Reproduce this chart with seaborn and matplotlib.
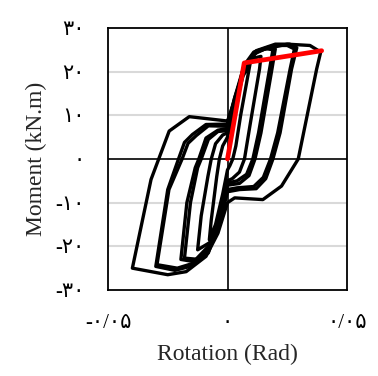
import matplotlib
matplotlib.use("Agg")
import matplotlib.pyplot as plt
import seaborn as sns
import pandas as pd

# Hysteresis loops: rotation (rad) vs moment (kN.m)
loop1_x = [0.000, 0.003, 0.0065, 0.0095, 0.0085, 0.0055, 0.0035, 0.0022, 0.001, 0.000,
           -0.002, -0.005, -0.0076, -0.0068, -0.0045, -0.0034, -0.002, 0.000]
loop1_y = [5.0, 12.0, 19.0, 22.0, 19.0, 10.0, 3.0, 0.0, -1.5, -2.5,
           -8.0, -15.0, -18.5, -14.0, -4.0, 0.0, 3.0, 5.0]

loop2_x = [0.000, 0.003, 0.0065, 0.010, 0.014, 0.0134, 0.0095, 0.0071, 0.005, 0.002, 0.000,
           -0.003, -0.007, -0.0125, -0.011, -0.0082, -0.0068, -0.005, -0.002, 0.000]
loop2_y = [6.0, 13.0, 20.5, 23.0, 23.5, 20.6, 8.0, 0.0, -3.0, -4.5, -5.0,
           -12.0, -19.0, -20.8, -13.0, -4.0, 0.0, 3.5, 5.5, 6.0]

loop3_x = [0.000, 0.003, 0.007, 0.011, 0.016, 0.019, 0.0176, 0.013, 0.0106, 0.008, 0.004, 0.000,
           -0.003, -0.008, -0.012, -0.018, -0.0155, -0.0125, -0.011, -0.008, -0.004, 0.000]
loop3_y = [6.5, 13.5, 21.0, 24.0, 25.3, 25.0, 20.6, 6.0, 0.0, -3.5, -5.0, -5.5,
           -13.0, -21.0, -23.0, -22.7, -10.0, -2.0, 0.0, 4.5, 6.3, 6.5]

loop4_x = [0.000, 0.003, 0.007, 0.011, 0.017, 0.020, 0.0186, 0.014, 0.0115, 0.009, 0.005, 0.000,
           -0.003, -0.008, -0.013, -0.0195, -0.017, -0.0135, -0.012, -0.009, -0.004, 0.000]
loop4_y = [7.0, 14.0, 21.5, 24.5, 25.6, 25.2, 20.6, 6.0, 0.0, -3.8, -5.6, -6.0,
           -13.5, -21.5, -23.6, -23.0, -10.0, -2.0, 0.0, 4.8, 6.6, 7.0]

loop5_x = [0.000, 0.003, 0.0075, 0.012, 0.020, 0.026, 0.029, 0.0268, 0.022, 0.019, 0.016, 0.012,
           0.005, 0.000, -0.003, -0.008, -0.015, -0.022, -0.030, -0.025, -0.0205, -0.018,
           -0.0147, -0.009, 0.000]
loop5_y = [8.0, 14.0, 21.5, 24.8, 26.3, 26.3, 25.5, 20.6, 6.0, 0.0, -4.5, -6.8,
           -7.0, -7.5, -14.0, -20.5, -24.5, -25.5, -24.6, -7.0, 0.0, 3.8,
           5.6, 7.9, 8.0]

loop6_x = [0.000, 0.003, 0.0075, 0.012, 0.020, 0.025, 0.028, 0.0262, 0.021, 0.018, 0.015, 0.011,
           0.004, 0.000, -0.003, -0.008, -0.015, -0.021, -0.0295, -0.0245, -0.019, -0.0165,
           -0.013, -0.008, 0.000]
loop6_y = [7.5, 13.5, 21.0, 24.5, 26.0, 26.0, 25.2, 20.6, 6.0, 0.0, -4.2, -6.3,
           -6.6, -7.0, -13.5, -20.0, -24.0, -25.0, -24.2, -7.0, 0.0, 3.6,
           5.4, 7.6, 7.5]

loop7_x = [0.000, 0.004, 0.0075, 0.0126, 0.025, 0.0345, 0.039, 0.0373, 0.0296, 0.0226, 0.0148,
           0.003, 0.000, -0.004, -0.009, -0.0173, -0.025, -0.0398, -0.032, -0.0244, -0.016, 0.000]
loop7_y = [8.7, 15.0, 21.5, 24.8, 26.3, 26.0, 24.5, 20.6, 0.0, -6.2, -9.3,
           -8.9, -10.0, -17.0, -22.3, -25.8, -26.5, -25.0, -4.7, 6.4, 9.7, 8.7]

# Bilinear idealisation of the backbone
backbone_x = [0.000, 0.007, 0.0394]
backbone_y = [0.0, 22.0, 24.8]

x_ticks = [-0.05, 0.0, 0.05]
x_tick_labels = ["-۰/۰۵", "۰", "۰/۰۵"]
y_ticks = [-30, -20, -10, 0, 10, 20, 30]
y_tick_labels = ["-۳۰", "-۲۰", "-۱۰", "۰", "۱۰", "۲۰", "۳۰"]

loops = [loop1_x, loop1_y, loop2_x, loop2_y, loop3_x, loop3_y, loop4_x, loop4_y,
         loop5_x, loop5_y, loop6_x, loop6_y, loop7_x, loop7_y]
frames = []
for i in range(0, len(loops), 2):
    frames.append(pd.DataFrame({"rotation": loops[i], "moment": loops[i + 1],
                                "cycle": i // 2}))
cycles = pd.concat(frames, ignore_index=True)
backbone = pd.DataFrame({"rotation": backbone_x, "moment": backbone_y})

sns.set_theme(style="white")
plt.rcParams["font.family"] = ["Liberation Serif", "DejaVu Sans"]

fig = plt.figure(figsize=(3.78, 3.76), dpi=100)
ax = fig.add_axes([108 / 378, 1 - 290 / 376, (347 - 108) / 378, (290 - 28) / 376])

for yv in [-20, -10, 10, 20]:
    ax.axhline(yv, color="#d9d9d9", lw=1.5, zorder=0)
ax.axhline(0, color="black", lw=1.2, zorder=1)
ax.axvline(0, color="black", lw=1.2, zorder=1)

sns.lineplot(data=cycles, x="rotation", y="moment", units="cycle", estimator=None,
             sort=False, color="black", lw=2.4, ax=ax, zorder=2)
sns.lineplot(data=backbone, x="rotation", y="moment", sort=False, estimator=None,
             color="#ff0000", lw=3.4, ax=ax, zorder=3)

ax.set_xlim(-0.05, 0.05)
ax.set_ylim(-30, 30)
ax.set_xticks(x_ticks)
ax.set_xticklabels(x_tick_labels)
ax.set_yticks(y_ticks)
ax.set_yticklabels(y_tick_labels)
ax.tick_params(axis="both", length=0, labelsize=15, colors="black")
ax.tick_params(axis="y", pad=17)
ax.tick_params(axis="x", pad=17)
for lab in ax.get_xticklabels() + ax.get_yticklabels():
    lab.set_family(["Liberation Serif", "DejaVu Sans"])

for sp in ax.spines.values():
    sp.set_color("black")
    sp.set_linewidth(1.3)

ax.set_xlabel("Rotation (Rad)", fontsize=17, family="Liberation Serif", labelpad=8)
ax.set_ylabel("Moment (kN.m)", fontsize=17, family="Liberation Serif", labelpad=6)

fig.savefig("out.png", dpi=100)
